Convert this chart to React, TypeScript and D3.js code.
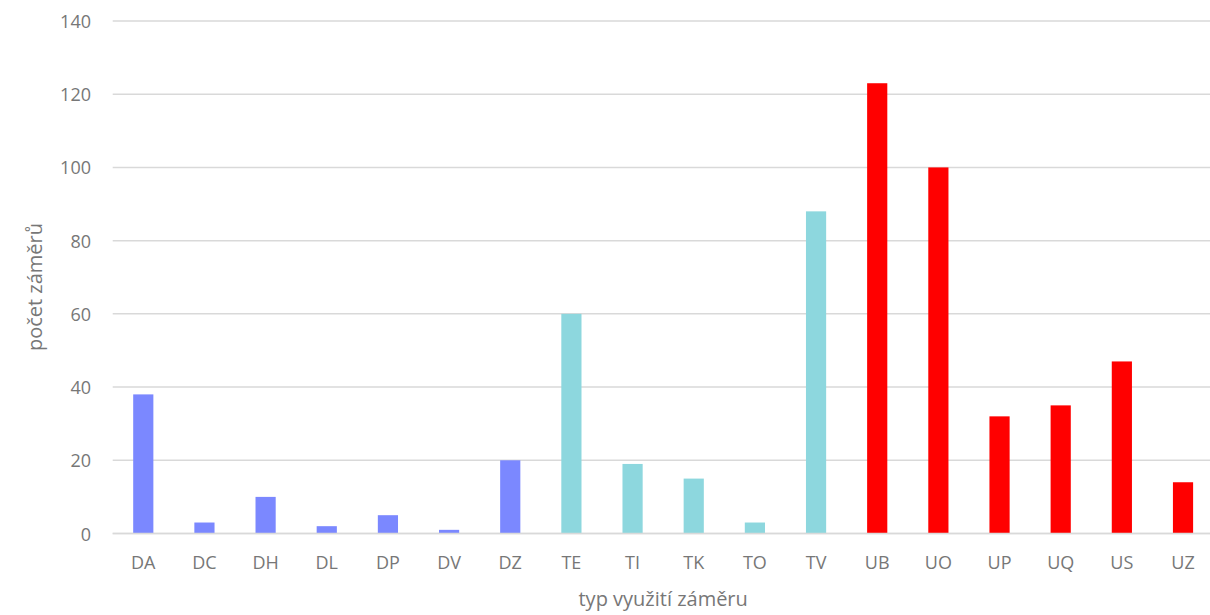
import React from "react";
import * as d3 from "d3";

// Usage types and counts of projects
const categories = ["DA", "DC", "DH", "DL", "DP", "DV", "DZ", "TE", "TI", "TK", "TO", "TV", "UB", "UO", "UP", "UQ", "US", "UZ"];
const counts = [38, 3, 10, 2, 5, 1, 20, 60, 19, 15, 3, 88, 123, 100, 32, 35, 47, 14];
// Group of each category (first letter): D = blue, T = teal, U = red
const groupColors: Record<string, string> = { D: "#7b88ff", T: "#8dd7de", U: "#ff0000" };
const yTicks = [0, 20, 40, 60, 80, 100, 120, 140];

const W = 1210;
const H = 615;
const M = { left: 112.7, right: 1213.6, top: 21, bottom: 533.5 };
const FONT = "'Open Sans', 'Noto Sans', sans-serif";
const TEXT = "#777777";

export default function App() {
  const x = d3.scaleBand<string>().domain(categories).range([M.left, M.right]).paddingInner(0.67).paddingOuter(0.335);
  const y = d3.scaleLinear().domain([0, 140]).range([M.bottom, M.top]);
  const plotCenterX = (M.left + M.right) / 2;

  return (
    <svg width={W} height={H} style={{ position: "absolute", left: 0, top: 0, background: "#fff" }} fontFamily={FONT}>
      {yTicks.map((t) => (
        <g key={t}>
          <line x1={M.left} x2={M.right} y1={y(t)} y2={y(t)} stroke="#d9d9d9" strokeWidth={1.5} />
          <text x={91} y={y(t)} textAnchor="end" dominantBaseline="central" fontSize={18} fill={TEXT}>
            {t}
          </text>
        </g>
      ))}
      {categories.map((c, i) => (
        <rect
          key={c}
          x={x(c)}
          width={x.bandwidth()}
          y={y(counts[i])}
          height={y(0) - y(counts[i])}
          fill={groupColors[c[0]]}
        />
      ))}
      <line x1={M.left} x2={M.right} y1={y(0)} y2={y(0)} stroke="#d9d9d9" strokeWidth={1.5} />
      {categories.map((c) => (
        <text key={c} x={(x(c) ?? 0) + x.bandwidth() / 2} y={569} textAnchor="middle" fontSize={18} fill={TEXT}>
          {c}
        </text>
      ))}
      <text x={plotCenterX} y={606} textAnchor="middle" fontSize={20} fill={TEXT}>
        typ využití záměru
      </text>
      <text transform={`translate(42, 287) rotate(-90)`} textAnchor="middle" fontSize={20} fill={TEXT}>
        počet záměrů
      </text>
    </svg>
  );
}
